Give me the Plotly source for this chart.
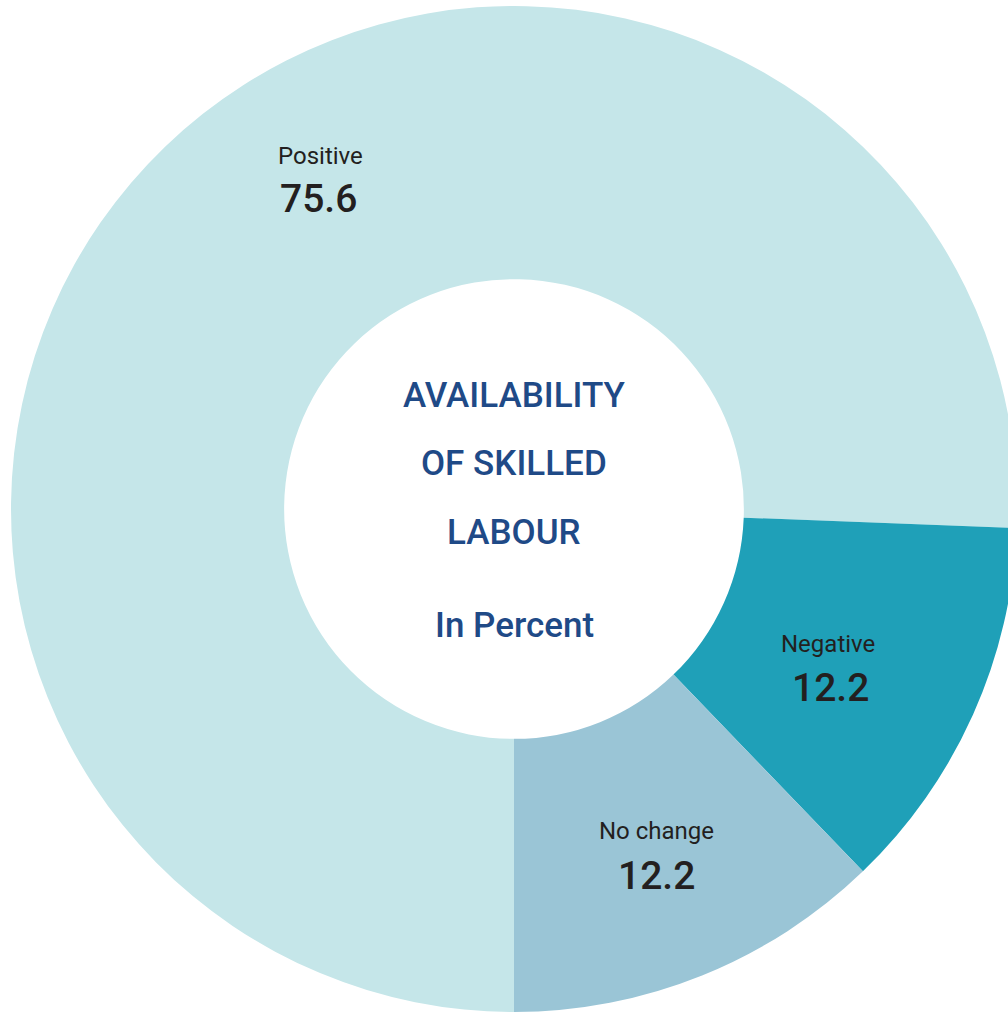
import plotly.graph_objects as go

# Survey result: availability of skilled labour, in percent
categories = ["Positive", "Negative", "No change"]
values = [75.6, 12.2, 12.2]
slice_colors = ["#C5E6E9", "#1FA0B8", "#9AC5D6"]
center_lines = ["AVAILABILITY", "OF SKILLED", "LABOUR", "In Percent"]

W, H = 1030, 1012
cx, cy, r_out = 514, 509, 503


def px(x):
    return x / W


def py(y):
    return 1 - y / H


fig = go.Figure()
fig.add_trace(go.Pie(
    labels=categories,
    values=values,
    sort=False,
    direction="clockwise",
    rotation=180,
    hole=0.457,
    marker=dict(colors=slice_colors, line=dict(width=0)),
    textinfo="none",
    hoverinfo="label+value",
    showlegend=False,
    domain=dict(x=[px(cx - r_out), px(cx + r_out)],
                y=[max(0, py(cy + r_out)), py(cy - r_out)]),
))

font_family = "Roboto, 'Open Sans', sans-serif"
label_color = "#231F20"
title_color = "#1F4A87"

# Slice labels: name above, value below
label_pos = {
    "Positive": ((320, 156), (318, 199)),
    "Negative": ((828, 644), (830, 688)),
    "No change": ((656, 831), (656, 876)),
}

annotations = []
for name, val in zip(categories, values):
    (lx, ly), (vx, vy) = label_pos[name]
    annotations.append(dict(
        x=px(lx), y=py(ly), xref="paper", yref="paper",
        text=name, showarrow=False, xanchor="center", yanchor="middle",
        font=dict(family=font_family, size=24, color=label_color, weight=400),
    ))
    annotations.append(dict(
        x=px(vx), y=py(vy), xref="paper", yref="paper",
        text=f"{val:.1f}", showarrow=False, xanchor="center", yanchor="middle",
        font=dict(family=font_family, size=39, color=label_color, weight=500),
    ))

# Centre title inside the hole
for line, yline in zip(center_lines, [395, 463, 532, 625]):
    annotations.append(dict(
        x=px(cx), y=py(yline), xref="paper", yref="paper",
        text=line, showarrow=False, xanchor="center", yanchor="middle",
        font=dict(family=font_family, size=35, color=title_color, weight=500),
    ))

fig.update_layout(
    width=W, height=H,
    autosize=False,
    margin=dict(l=0, r=0, t=0, b=0),
    paper_bgcolor="white",
    plot_bgcolor="white",
    annotations=annotations,
)

fig.write_html("out.html", post_script="document.body.style.overflow='hidden';"
               "document.documentElement.style.overflow='hidden';")
